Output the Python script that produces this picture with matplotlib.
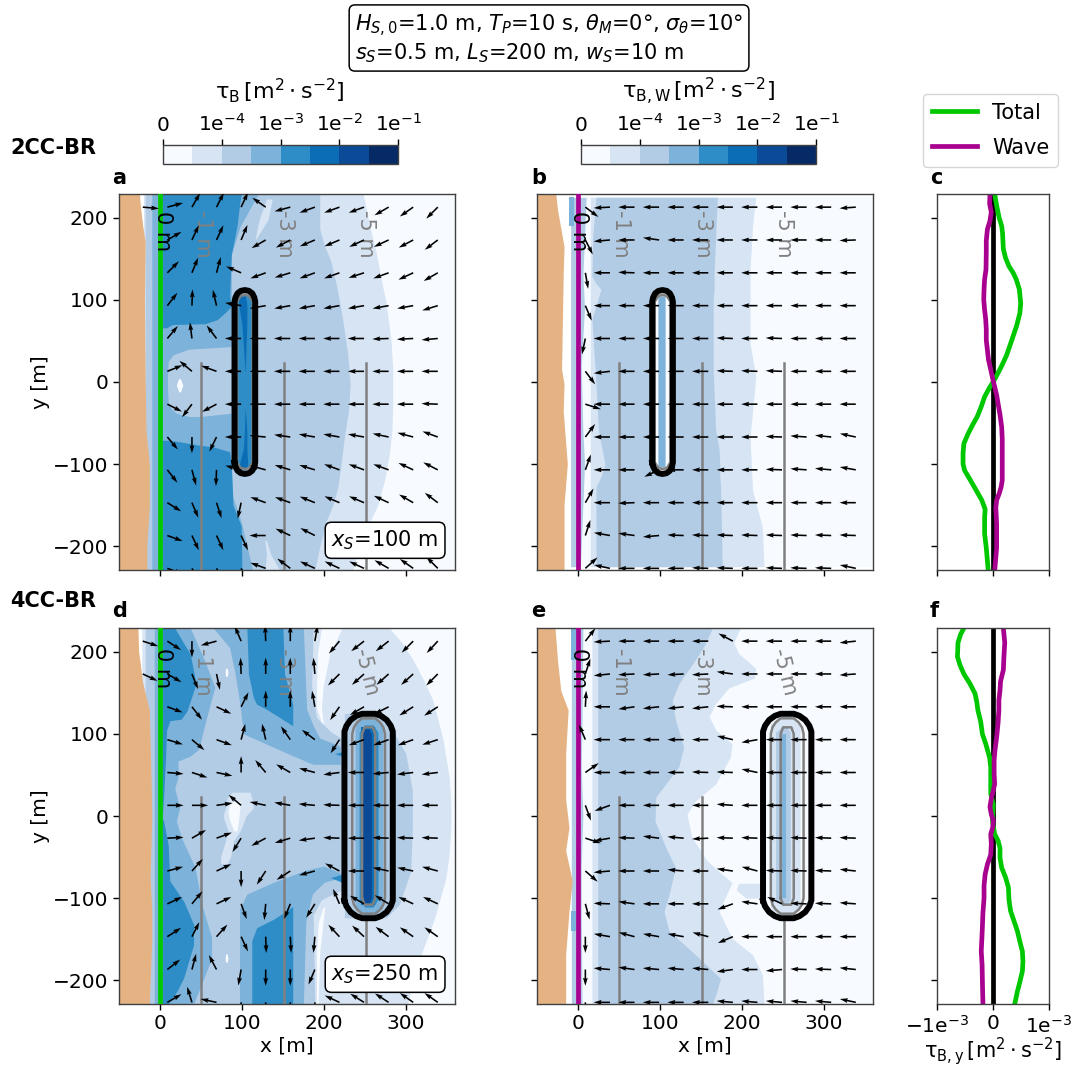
import numpy as np
import matplotlib
matplotlib.use("Agg")
import matplotlib.pyplot as plt
from matplotlib.colors import ListedColormap, BoundaryNorm
from matplotlib.cm import ScalarMappable

W, H = 1075, 1068
NA = float("nan")

LEVELS = [0, 3e-5, 1e-4, 3e-4, 1e-3, 3e-3, 1e-2, 3e-2, 1e-1]
BAND_COLORS = ["#f7fbff", "#d6e4f4", "#b3cce6", "#7db3da", "#2e8dc6", "#0a6db5", "#0a4a96", "#062a66"]
CB_TICKS = [0, 1e-4, 1e-3, 1e-2, 1e-1]
CB_LABELS = ["0", "1e$^{-4}$", "1e$^{-3}$", "1e$^{-2}$", "1e$^{-1}$"]

# arrow tail positions [m]
ARROW_X = [-21, 9, 39, 69, 99, 129, 159, 189, 219, 249, 279, 309, 339]
ARROW_Y = [213, 173, 133, 93, 53, 13, -27, -67, -107, -147, -187, -227]

# arrow directions [deg], rows follow ARROW_Y
ANG_A = [
 [-5, 15, 60, 63, 65, 145, 195, 200, 200, 200, 210, 215, 225],
 [NA, 30, 65, 65, 67, 210, 208, 203, 203, 205, 205, 208, 217],
 [NA, 45, 68, 75, 157, 200, 197, 200, 200, 198, 200, 205, 210],
 [NA, 52, 88, 103, 170, 190, 190, 190, 190, 190, 190, 190, 197],
 [NA, 50, 97, 127, 180, 180, 180, 180, 180, 180, 182, 183, 185],
 [NA, 22, 140, 160, 180, 180, 180, 180, 180, 180, 180, 180, 180],
 [NA, -27, 233, 208, 180, 180, 180, 180, 180, 180, 180, 180, 178],
 [NA, -50, -90, 244, 180, 175, 172, 170, 170, 170, 168, 165, 160],
 [NA, -52, -75, -92, 165, 165, 163, 163, 160, 160, 160, 155, 153],
 [NA, -32, -67, -72, 258, 160, 160, 158, 157, 157, 155, 150, 143],
 [NA, -20, -65, -65, -65, 180, 155, 153, 150, 150, 150, 150, 150],
 [NA, -20, -60, -60, -60, 160, 143, 155, 155, 155, 150, 145, 135],
]
ANG_B = [
 [NA, -37, 183, 180, 180, 180, 180, 180, 180, 180, 180, 180, 184],
 [NA, -63, 185, 180, 172, 180, 180, 180, 180, 180, 180, 180, 182],
 [NA, -80, 180, 178, 180, 180, 180, 180, 180, 180, 180, 180, 180],
 [NA, -67, 180, 180, 180, 180, 180, 180, 180, 180, 180, 180, 180],
 [NA, 258, 180, 180, 180, 180, 180, 178, 180, 178, 180, 180, 180],
 [NA, -53, 187, 180, 180, 180, 180, 178, 178, 178, 180, 180, 180],
 [NA, -18, 180, 180, 180, 180, 180, 180, 180, 180, 180, 180, 180],
 [NA, 53, 180, 180, 180, 180, 180, 180, 180, 178, 176, 174, 168],
 [NA, 70, 180, 180, 205, 180, 180, 180, 180, 178, 176, 175, 170],
 [NA, 60, 180, 182, 180, 180, 180, 180, 180, 180, 180, 180, 180],
 [NA, 72, 170, 172, 185, 178, 178, 178, 178, 178, 178, 178, 178],
 [NA, 42, 168, 180, 180, 180, 178, 178, 180, 178, 178, 178, 168],
]
ANG_D = [
 [-18, -33, -90, 195, 113, 92, 90, 80, 230, 218, 218, 225, 227],
 [-25, -30, -68, -78, 92, 90, 90, 95, 225, 222, 222, 222, 225],
 [NA, -20, -52, -25, 63, 90, 90, 100, 235, 210, 207, 212, 213],
 [NA, -17, -40, -20, 75, 103, 125, 143, 237, 200, 200, 200, 198],
 [NA, -5, -18, -12, 90, 130, 150, 165, 188, 180, 185, 187, 187],
 [NA, 0, 0, 8, 140, 168, 170, 175, 178, 180, 180, 180, 180],
 [NA, 3, 30, 20, 238, 208, 197, 188, 178, 180, 178, 178, 178],
 [NA, 15, 48, 25, 270, 237, 213, 195, 152, 180, 168, 168, 165],
 [NA, 25, 50, 25, -70, 265, 248, 238, 113, 150, 148, 155, 155],
 [NA, 33, 63, 48, -65, -88, -87, 265, 133, 137, 143, 145, 145],
 [NA, 38, 75, 118, 260, 270, 270, 247, 140, 140, 140, 140, 140],
 [NA, 30, 107, 168, -90, -90, -90, -90, 155, 148, 147, 145, 145],
]
ANG_E = [
 [NA, 52, 183, 180, 180, 180, 180, 152, 180, 180, 180, 180, 186],
 [NA, 72, 186, 183, 183, 183, 183, 172, 180, 180, 180, 180, 184],
 [NA, 87, 180, 188, 186, 186, 186, 178, 180, 180, 180, 180, 180],
 [NA, 113, 180, 180, 180, 180, 180, 167, 190, 180, 180, 180, 180],
 [NA, 35, 180, 180, 180, 180, 178, 178, 168, 180, 180, 180, 180],
 [NA, -70, 200, 180, 180, 180, 180, 176, 180, 180, 180, 180, 180],
 [NA, -18, 190, 178, 173, 175, 183, 178, 178, 178, 178, 178, 178],
 [NA, -41, 185, 180, 180, 175, 180, 172, 165, 178, 178, 178, 174],
 [NA, -75, 178, 172, 180, 180, 180, 200, 172, 155, 178, 178, 176],
 [NA, 270, 170, 165, 170, 170, 165, 203, 180, 180, 180, 180, 180],
 [NA, 270, 175, 172, 175, 175, 175, 188, 180, 185, 178, 178, 174],
 [NA, 270, 180, 180, 180, 180, 180, 175, 175, 175, 175, 175, 168],
]

# shoreline position [m] against alongshore distance [m]
A_LAND_Y = [229, 215, 190, 170, 100, 0, -60, -100, -150, -200, -229]
A_LAND_X = [-25, -24, -21, -18, -19, -18, -17, -13, -13, -16, -16]
B_LAND_Y = [229, 210, 165, 133, 15, -2, -35, -100, -149, -229]
B_LAND_X = [-27, -25, -17, -18, -20, -17, -18, -13, -17, -17]
D_LAND_Y = [229, 200, 162, 129, 50, 0, -75, -116, -150, -229]
D_LAND_X = [-27, -26, -21, -13, -11, -10, -12, -10, -10, -13]
E_LAND_Y = [229, 190, 153, 129, 76, 20, -14, -42, -79, -116, -169, -229]
E_LAND_X = [-28, -25, -21, -12, -15, -15, -11, -15, -7, -11, -15, -15]

# contour bands of the stress field: (alongshore, left edge, right edge)
TOP, BOT = 229, -229
a_all = ([TOP, BOT], -20, 360)
a_b1 = ([229, 190, 157, 125, 96, 50, 15, -26, -60, -87, -120, -149, -189, -229], -20,
        [248, 256, 264, 270, 276, 282, 284, 284, 283, 280, 274, 266, 248, 235])
a_b2 = ([229, 186, 165, 149, 115, 76, 35, -2, -35, -67, -100, -128, -150, -169, -200, -229], -18,
        [195, 195, 201, 208, 216, 223, 229, 232, 230, 225, 221, 217, 211, 203, 195, 189])
a_b1_n = ([223, 198, 174], [130, 121, 116], [137, 132, 117])
a_b1_s = ([-193, -210, -229], [128, 130, 128], [130, 135, 146])
a_b3 = ([229, 215, 190, 155, 100, -100, -140, -170, -229], -10, [120, 112, 98, 87, 87, 87, 89, 99, 113])
a_b2_c = ([43, 40, 33, 25, 0, -25, -33, -38, -42], [85, 35, 16, 10, 9, 10, 14, 20, 35], [87, 87, 87, 87, 87, 87, 87, 87, 50])
a_b0_c = ([4, -4, -12], [22.5, 20, 23], [25, 28, 25])
a_b4_n = ([229, 215, 190, 155, 105, 92, 85, 76, 71, 70, 66], 3, [99, 97, 94, 87, 85, 87, 80, 70, 55, 15, 8])
a_b4_s = ([-71, -73, -77, -79, -85, -100, -150, -175, -229], 3, [12, 25, 48, 65, 85, 87, 89, 99, 100])
a_b4_i = ([105, -105], 95, 113)
a_b5_t = ([105, 95, 70, 40, 10], [96, 96, 100, 102, 104], [104, 106, 106, 105, 104])
a_b5_b = ([-30, -60, -80, -100, -107], [104, 103, 102, 97, 97], [104, 106, 106, 107, 105])
REG_A = [(0, a_all), (1, a_b1), (2, a_b2), (1, a_b1_n), (1, a_b1_s), (3, a_b3), (2, a_b2_c), (0, a_b0_c),
         (4, a_b4_n), (4, a_b4_s), (4, a_b4_i), (5, a_b5_t), (5, a_b5_b)]

b_all = ([225, -225], -9, 360)
b_b1 = ([225, 190, 137, 47, 6, -67, -132, -177, -225], 15, [217, 213, 210, 210, 217, 210, 213, 225, 227])
b_b2 = ([225, 178, 129, 120, 113, 100, 76, 15, -59, -80, -100, -115, -128, -225],
        [22, 18, 17, 22, 28, 24, 17, 21, 25, 29, 33, 28, 22, 22],
        [170, 168, 166, 166, 166, 165, 165, 165, 168, 172, 173, 173, 174, 176])
b_b2_s = ([225, 130, 90, 20, -60, -100, -225], -9, [10, 6, 8, 4, 6, 8, 3])
b_b3_n = ([225, 190], -11, -5)
b_b0_i = ([110, -110], 90, 116)
b_b2_i = ([106, -106], 97.5, 108)
b_b3_i = ([104, -104], 99, 106)
REG_B = [(0, b_all), (1, b_b1), (2, b_b2), (2, b_b2_s), (3, b_b3_n), (0, b_b0_i), (2, b_b2_i), (3, b_b3_i)]

d_all = ([TOP, BOT], -22, 360)
d_b1 = ([229, 210, 190, 165, 141, 95, 47, 15, -14, -45, -75, -125, -173, -229], -22,
        [280, 296, 309, 322, 333, 345, 353, 355, 355, 353, 349, 335, 317, 302])
d_b0_n = ([229, 197, 157, 132, 108], [197, 192, 191, 191, 199], [222, 207, 199, 197, 200])
d_b0_s = ([-111, -130, -165, -229], [199, 193, 191, 191], [201, 199, 195, 193])
d_b2_w = ([229, 157, 120, 102, 95, 90, -88, -91, -102, -120, -229], -18,
          [187, 185, 191, 209, 221, 235, 235, 219, 197, 187, 189])
d_b2_e = ([125, 118, 104, 76, 31, -10, -67, -108, -124], 225, [255, 270, 284, 300, 308, 308, 306, 292, 276])
d_b3_w = ([229, 193, 157, 120, 104, 81, 73, 67, 47, 34, 10, -6, -26, -63, -108, -148, -173, -209, -229], -7,
          [37, 53, 67, 57, 53, 47, 37, 22, 22, 18, 24, 20, 26, 43, 51, 63, 63, 49, 41])
d_b1_c = ([29, 22, 10, 0, -18, -30, -50, -58], [88, 82, 80, 77, 83, 80, 74, 74], [110, 112, 114, 105, 98, 90, 86, 82])
d_b0_c = ([18, 5, -5, -18], [86, 83, 85, 90], [98, 97, 96, 94])
d_b0_p = ([180, 175, 170], [80, 79.5, 80], [82, 83, 82])
d_b0_q = ([-168, -173, -178], [80, 79.5, 80], [82, 83, 82])
d_b4_nw = ([229, 197, 161, 128, 118, 116, 104, 75, 34, 0], 3, [18, 37, 44, 33, 26, 12, 8, 7, 5, 3])
d_b4_sw = ([-4, -35, -79, -104, -132, -157, -197, -213, -229], 3, [4, 10, 12, 29, 41, 41, 29, 21, 10])
d_b4_n = ([229, 173, 144, 136, 130, 120, 110], [106, 108, 114, 118, 130, 146, 162], [150, 152, 160, 162, 162, 162, 162])
d_b4_s = ([-110, -116, -126, -136, -152, -229], [162, 154, 138, 118, 112, 112], 162)
d_b4_w1 = ([79, 76, 72], [225, 213, 225], 227)
d_b4_w2 = ([-70, -75, -82], [225, 208, 225], 227)
d_b3_i = ([121, 112, -112, -121], [248, 238, 238, 248], [262, 272, 272, 262])
d_b4_i = ([111, 102, -102, -111], [250, 243, 243, 250], [260, 266, 266, 260])
d_b5_i = ([108, -108], 245.5, 262)
d_b6_i = ([106, 100, -100, -106], [249, 246, 246, 249], [255, 258, 258, 255])
# bands whose outline is easier to read along the cross-shore axis: (cross-shore, lower edge, upper edge)
d_b3_nc = ([65, 85, 91, 97, 102, 138, 163, 175, 179, 187, 195, 220],
           [229, 205, 177, 140, 100, 84, 73, 68, 66, 63, 63, 63],
           [229, 229, 229, 229, 229, 229, 229, 229, 130, 110, 95, 85])
d_b3_sc = ([97, 98, 106, 138, 175, 178, 186, 200, 220],
           [-229, -229, -229, -229, -229, -128, -95, -81, -75],
           [-112, -112, -95, -81, -67, -66, -64, -61, -69])
REG_D = [(0, d_all), (1, d_b1), (0, d_b0_n), (0, d_b0_s), (2, d_b2_w), (2, d_b2_e), (3, d_b3_w),
         (1, d_b1_c), (0, d_b0_c), (0, d_b0_p), (0, d_b0_q), (4, d_b4_nw), (4, d_b4_sw),
         (3, d_b3_i), (4, d_b4_i), (5, d_b5_i), (6, d_b6_i), (4, d_b4_w1), (4, d_b4_w2)]
REG_D_H = [(3, d_b3_nc), (3, d_b3_sc)]
REG_D_TOP = [(4, d_b4_n), (4, d_b4_s)]

e_all = ([TOP, BOT], -8, 360)
e_b1 = ([229, 211, 198, 180, 168, 156, 137, 121, 105, 88, 72, 39, 18, 2, -26, -55, -71, -81, -116, -149, -169, -193, -229], 17,
        [198, 190, 196, 217, 215, 184, 168, 160, 168, 188, 186, 168, 143, 133, 139, 158, 176, 188, 172, 188, 213, 225, 227])
e_b2 = ([229, 207, 190, 161, 141, 117, 84, 60, 23, -6, -38, -63, -96, -116, -140, -165, -198, -218, -229], 24,
        [164, 154, 143, 123, 115, 119, 129, 123, 95, 94, 107, 119, 111, 105, 111, 139, 174, 168, 164])
e_b2_s = ([229, 120, 60, 0, -60, -120, -229], -8, [6, 5, 4, 6, 4, 4, 5])
e_b3_n = ([229, 190], -8, -3)
e_b3_s = ([-116, -140], -8, -2)
e_b1_p = ([-82, -90, -100], [196, 193, 205], 225)
e_b1_i = ([120, 112, -112, -120], [244, 235, 235, 244], [262, 271, 271, 262])
e_b2_i = ([108, 102, -102, -108], [248, 241, 241, 248], [255, 259, 259, 255])
e_b3_i = ([100, -100], 249, 254)
REG_E = [(0, e_all), (1, e_b1), (2, e_b2), (2, e_b2_s), (3, e_b3_n), (3, e_b3_s), (1, e_b1_p),
         (1, e_b1_i), (2, e_b2_i), (3, e_b3_i)]

# breakwater outline and its depth contours (offset from centre, alongshore)
LONG_DX = [-12.6, -12.6, -11.5, -9, -5, 0, 5, 9, 11.5, 12.6, 12.6, 11.5, 9, 5, 0, -5, -9, -11.5, -12.6]
LONG_Y = [-98, 98, 103, 108, 111, 112, 111, 108, 103, 98, -98, -103, -108, -111, -112, -111, -108, -103, -98]
SMALL_G_DX = [-9.5, -9.5, -5, 0, 5, 9.5, 9.5, 5, 0, -5, -9.5]
SMALL_G_Y = [-98, 98, 105, 106, 105, 98, -98, -105, -106, -105, -98]
WIDE_DX = [-29.5, -29.5, -27, -22, -15, -8, 8, 15, 22, 27, 29.5, 29.5, 27, 22, 15, 8, -8, -15, -22, -27, -29.5]
WIDE_Y = [-103, 103, 110, 117, 122, 124.5, 124.5, 122, 117, 110, 103, -103, -110, -117, -122, -124.5, -124.5, -122, -117, -110, -103]
WIDE_G1_DX = [-20, -20, -18, -14, -8, 8, 14, 18, 20, 20, 18, 14, 8, -8, -14, -18, -20]
WIDE_G1_Y = [-100, 100, 108, 114, 119, 119, 114, 108, 100, -100, -108, -114, -119, -119, -114, -108, -100]
WIDE_G2_DX = [-8, -8, -5, 5, 8, 8, 5, -5, -8]
WIDE_G2_Y = [-100, 100, 108, 108, 100, -100, -108, -108, -100]

# depth contours
DEPTH_X = [50.5, 151, 251]
DEPTH_TOP = 23

# alongshore-averaged stress profiles, units of 1e-3 m2 s-2
C_TOT_Y = [229, 215, 200, 190, 182, 162, 151, 141, 133, 125, 113, 96, 84, 68, 47, 33, 21, 11, 2, -6, -18, -30, -42, -53, -63, -75, -87, -100, -108, -120, -132, -144, -155, -165, -185, -202, -230]
C_TOT = [.03, .065, .11, .155, .17, .185, .225, .285, .36, .415, .47, .495, .48, .42, .315, .245, .165, .09, .02, -.055, -.15, -.21, -.28, -.37, -.445, -.52, -.535, -.535, -.505, -.40, -.30, -.20, -.14, -.15, -.15, -.12, -.085]
C_WAV_Y = [227, 217, 207, 196, 186, 172, 158, 137, 125, 113, 100, 88, 76, 64, 51, 39, 27, 15, 4, -6, -16, -26, -40, -55, -69, -83, -102, -120, -128, -136, -144, -153, -173, -202, -226]
C_WAV = [-.055, -.06, -.03, -.055, -.10, -.12, -.12, -.125, -.15, -.16, -.165, -.15, -.13, -.12, -.12, -.10, -.08, -.04, -.005, .03, .065, .09, .125, .155, .165, .165, .165, .165, .145, .11, .065, .05, .065, .065, .035]
F_TOT_Y = [229, 221, 211, 194, 184, 173, 161, 149, 139, 129, 115, 100, 88, 71, 59, 47, 27, 14, -6, -22, -30, -39, -51, -63, -75, -87, -102, -116, -128, -140, -153, -165, -177, -189, -202, -214, -230]
F_TOT = [-.52, -.58, -.625, -.635, -.59, -.52, -.41, -.32, -.29, -.27, -.22, -.19, -.13, -.06, -.04, -.04, -.04, .005, -.01, .03, .09, .125, .125, .155, .225, .275, .285, .315, .375, .435, .48, .525, .535, .525, .48, .435, .385]
F_WAV_Y = [229, 211, 194, 178, 164, 153, 141, 129, 113, 96, 80, 68, 51, 39, 31, 23, 11, 2, -6, -14, -22, -34, -47, -59, -71, -85, -100, -118, -136, -151, -165, -181, -198, -214, -228]
F_WAV = [.185, .21, .195, .185, .135, .125, .105, .105, .09, .065, .035, .02, .02, .03, .005, -.025, -.055, -.03, .005, -.005, -.04, -.03, -.04, -.10, -.14, -.16, -.16, -.18, -.19, -.20, -.21, -.195, -.19, -.185, -.18]

INFO_1 = r"$H_{S,0}$=1.0 m, $T_P$=10 s, $\theta_M$=0°, $\sigma_\theta$=10°"
INFO_2 = r"$s_S$=0.5 m, $L_S$=200 m, $w_S$=10 m"
TAU_B = r"$\mathrm{\tau_B}\,[\mathrm{m}^2\cdot\mathrm{s}^{-2}]$"
TAU_W = r"$\mathrm{\tau_{B,W}}\,[\mathrm{m}^2\cdot\mathrm{s}^{-2}]$"
TAU_Y = r"$\mathrm{\tau_{B,y}}\,[\mathrm{m}^2\cdot\mathrm{s}^{-2}]$"

GREEN, PURPLE, GRAY, LAND = "#00c800", "#a8008f", "#808080", "#e5b383"
FS = 14.5
plt.rcParams.update({"font.family": "DejaVu Sans", "font.size": FS, "axes.edgecolor": "#404040",
                     "mathtext.default": "it", "axes.linewidth": 1.0})

fig = plt.figure(figsize=(W / 100, H / 100), dpi=100)


def axpx(l, t, r, b):
    return fig.add_axes([l / W, 1 - b / H, (r - l) / W, (b - t) / H])


def ftext(x, y, s, **kw):
    return fig.text(x / W, 1 - y / H, s, **kw)


def bands(ax, regs):
    for k, (y, xl, xr) in regs:
        ax.fill_betweenx(y, xl, xr, color=BAND_COLORS[k], lw=0)


def hbands(ax, regs):
    for k, (x, yl, yh) in regs:
        ax.fill_between(x, yl, yh, color=BAND_COLORS[k], lw=0)


def map_panel(l, t, angles, land_y, land_x, regs, line, centre, rings, labels, top_contour=True,
              hregs=(), regs2=(), xlabels=False, ylabels=False, box=None):
    ax = axpx(l, t, l + 336, t + 376)
    bands(ax, regs[:7] if hregs else regs)
    hbands(ax, hregs)
    bands(ax, regs[7:] if hregs else ())
    bands(ax, regs2)
    ax.fill_betweenx(land_y, -60, land_x, color=LAND, lw=0)
    ax.axvline(0, color=line, lw=3.4, zorder=6)
    for i, x in enumerate(DEPTH_X):
        tip = DEPTH_TOP if (i < 2 or top_contour) else -124
        ax.plot([x, x], [-229, tip], color=GRAY, lw=1.8, zorder=3)
    for dx, y, c, w in rings:
        ax.plot(np.array(dx) + centre, y, color=c, lw=w, zorder=4, solid_joinstyle="round")
    X, Y = np.meshgrid(ARROW_X, ARROW_Y)
    A = np.radians(np.array(angles, dtype=float))
    m = ~np.isnan(A)
    ax.quiver(X[m], Y[m], np.cos(A[m]), np.sin(A[m]), angles="uv", units="dots", scale_units="dots",
              scale=1 / 16.3, width=1.6, pivot="tail", color="black", zorder=7)
    for x, y, s, c, r in labels:
        ax.text(x, y, s, color=c, rotation=r, ha="center", va="center", fontsize=15, zorder=6.5)
    ax.set_xlim(-50, 360)
    ax.set_ylim(-229, 229)
    ax.set_xticks([0, 100, 200, 300])
    ax.set_yticks([-200, -100, 0, 100, 200])
    ax.tick_params(labelbottom=xlabels, labelleft=ylabels, length=4, width=1)
    if xlabels:
        ax.set_xlabel("x [m]", labelpad=2)
    if ylabels:
        ax.set_ylabel("y [m]", labelpad=2)
    if box:
        ax.text(0.792, 0.079, box, transform=ax.transAxes, ha="center", va="center", fontsize=15, zorder=9,
                bbox=dict(boxstyle="round,pad=0.3", fc="white", ec="black", lw=1.1))
    return ax


def labels_for(y, tilt, x0):
    return [(x0, y + 4, "0 m", "black", -90), (52, y, "-1 m", GRAY, -90), (152, y, "-3 m", GRAY, -90),
            (252, y, "-5 m", GRAY, tilt)]


RINGS_SMALL = [(SMALL_G_DX, SMALL_G_Y, GRAY, 1.8), (LONG_DX, LONG_Y, "black", 4.3)]
RINGS_WIDE = [(WIDE_G2_DX, WIDE_G2_Y, GRAY, 1.8), (WIDE_G1_DX, WIDE_G1_Y, GRAY, 1.8),
              (WIDE_DX, WIDE_Y, "black", 4.3)]

map_panel(119, 194, ANG_A, A_LAND_Y, A_LAND_X, REG_A, GREEN, 103.6, RINGS_SMALL, labels_for(180, -90, 4),
          ylabels=True, box="$x_S$=100 m")
map_panel(537, 194, ANG_B, B_LAND_Y, B_LAND_X, REG_B, PURPLE, 103.2, RINGS_SMALL, labels_for(180, -90, 1))
map_panel(119, 628, ANG_D, D_LAND_Y, D_LAND_X, REG_D, GREEN, 254.6, RINGS_WIDE, labels_for(176, -76, 4),
          top_contour=False, hregs=REG_D_H, regs2=REG_D_TOP, xlabels=True, ylabels=True, box="$x_S$=250 m")
map_panel(537, 628, ANG_E, E_LAND_Y, E_LAND_X, REG_E, PURPLE, 255.3, RINGS_WIDE, labels_for(176, -76, 1),
          top_contour=False, xlabels=True)


def profile(t, tot_y, tot, wav_y, wav, xlabels):
    ax = axpx(937, t, 1049, t + 376)
    ax.axvline(0, color="black", lw=3.4)
    ax.plot(np.array(tot) * 1e-3, tot_y, color=GREEN, lw=3.4)
    ax.plot(np.array(wav) * 1e-3, wav_y, color=PURPLE, lw=3.4)
    ax.set_xlim(-1e-3, 1e-3)
    ax.set_ylim(-229, 229)
    ax.set_yticks([-200, -100, 0, 100, 200])
    ax.set_xticks([-1e-3, 0, 1e-3])
    ax.set_xticklabels(["\u22121e$^{-3}$", "0", "1e$^{-3}$"])
    ax.tick_params(labelleft=False, labelbottom=xlabels, length=4, width=1)
    if xlabels:
        ax.set_xlabel(TAU_Y, labelpad=-1, fontsize=15)
    return ax


profile(194, C_TOT_Y, C_TOT, C_WAV_Y, C_WAV, False)
profile(628, F_TOT_Y, F_TOT, F_WAV_Y, F_WAV, True)

cmap = ListedColormap(BAND_COLORS)
norm = BoundaryNorm(LEVELS, 8)
for l, lab in [(163, TAU_B), (581, TAU_W)]:
    cax = axpx(l, 145, l + 235, 164)
    cb = fig.colorbar(ScalarMappable(norm=norm, cmap=cmap), cax=cax, orientation="horizontal",
                      spacing="uniform", ticks=CB_TICKS)
    cb.ax.minorticks_off()
    cax.xaxis.set_ticks_position("top")
    cb.set_ticklabels(CB_LABELS)
    cax.tick_params(length=4, width=1, pad=3)
    ftext(l + 117, 91, lab, ha="center", va="center", fontsize=16)

ftext(355, 39, INFO_1 + "\n" + INFO_2, ha="left", va="center", fontsize=15, linespacing=1.15,
      bbox=dict(boxstyle="round,pad=0.28", fc="white", ec="black", lw=1.1))

for px, py, s in [(112, 178, "a"), (531, 178, "b"), (930, 178, "c"), (112, 611, "d"), (531, 611, "e"), (930, 611, "f")]:
    ftext(px, py, s, fontweight="bold", fontsize=15, ha="left", va="center")
ftext(10, 148, "2CC-BR", fontweight="bold", fontsize=15, ha="left", va="center")
ftext(10, 601, "4CC-BR", fontweight="bold", fontsize=15, ha="left", va="center")

h1, = fig.axes[0].plot([], [], color=GREEN, lw=3.4, label="Total")
h2, = fig.axes[0].plot([], [], color=PURPLE, lw=3.4, label="Wave")
fig.legend(handles=[h1, h2], loc="upper right", bbox_to_anchor=(1058 / W, 1 - 94 / H), fontsize=15,
           borderaxespad=0, handlelength=2.2, labelspacing=0.72, handletextpad=0.7, borderpad=0.42)

fig.savefig("out.png", dpi=100)
